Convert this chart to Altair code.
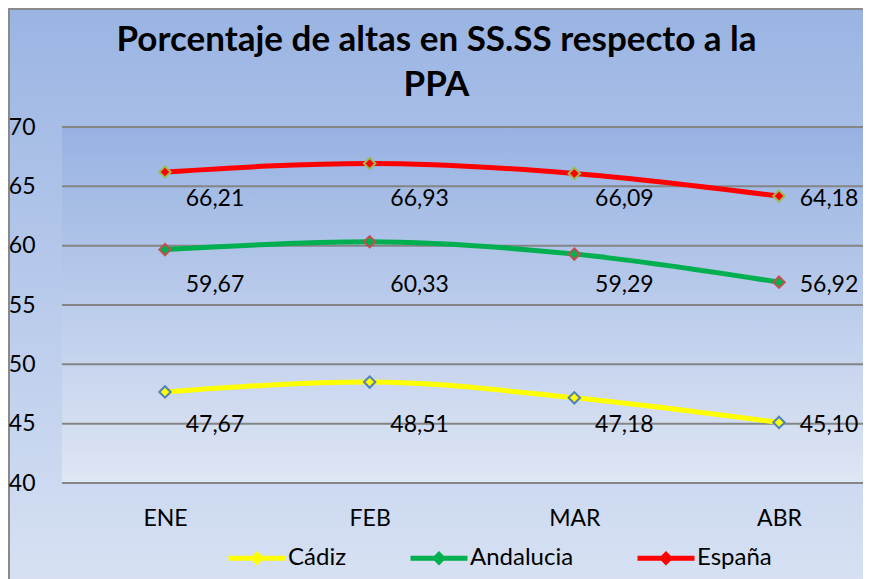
import altair as alt
import pandas as pd

# ---- data ----
months = ["ENE", "FEB", "MAR", "ABR"]
series_names = ["Cádiz", "Andalucia", "España"]
cadiz = [47.67, 48.51, 47.18, 45.10]
andalucia = [59.67, 60.33, 59.29, 56.92]
espana = [66.21, 66.93, 66.09, 64.18]
y_ticks = [40, 45, 50, 55, 60, 65, 70]

# ---- styles ----
line_colors = ["#ffff00", "#00b050", "#ff0000"]
marker_strokes = ["#4f81bd", "#c0504d", "#9bbb59"]
FONT = "Lato"
W, H = 801, 356

rows = []
for name, vals in zip(series_names, [cadiz, andalucia, espana]):
    for m, v in zip(months, vals):
        rows.append({"serie": name, "mes": m, "valor": v})
df = pd.DataFrame(rows)
ticks_df = pd.DataFrame({"tick": y_ticks})
one = pd.DataFrame({"a": [0]})

x_enc = alt.X(
    "mes:N",
    sort=months,
    scale=alt.Scale(type="point", domain=months, range=[103, 717], padding=0),
    axis=alt.Axis(title=None, labelAngle=0, labelFont=FONT, labelFontSize=23,
                  labelColor="black", labelPadding=24, ticks=False, domain=False,
                  grid=False, zindex=1),
)
y_scale = alt.Scale(domain=[40, 70], nice=False, zero=False)
y_axis = alt.Axis(title=None, values=y_ticks, format="d", labelFont=FONT, labelFontSize=23,
                  labelColor="black", labelPadding=27, ticks=False, domain=False,
                  grid=False, zindex=1)

outer_grad = alt.Gradient(gradient="linear",
                          stops=[alt.GradientStop(color="#9ab4e3", offset=0),
                                 alt.GradientStop(color="#dbe4f4", offset=1)],
                          x1=0, x2=0, y1=0, y2=1)
plot_grad = alt.Gradient(gradient="linear",
                         stops=[alt.GradientStop(color="#97b2e2", offset=0),
                                alt.GradientStop(color="#dfe6f4", offset=1)],
                         x1=0, x2=0, y1=0, y2=1)

bg_outer = alt.Chart(one).mark_rect(fill=outer_grad, stroke="#8a8a8a", strokeWidth=2).encode(
    x=alt.value(-53), x2=alt.value(W + 40), y=alt.value(-118), y2=alt.value(H + 140)
)
bg_plot = alt.Chart(one).mark_rect(fill=plot_grad).encode(
    x=alt.value(0), x2=alt.value(W), y=alt.value(0), y2=alt.value(H)
)

grid = alt.Chart(ticks_df).mark_rule(color="#858585", strokeWidth=2).encode(
    y=alt.Y("tick:Q", scale=y_scale, axis=y_axis)
)

legend_symbol = "M-1,0H1M0,-0.13L0.13,0L0,0.13L-0.13,0Z"
leg = alt.Legend(orient="none", legendX=164, legendY=400, direction="horizontal", title=None,
                 symbolType=legend_symbol, symbolSize=3249, symbolStrokeWidth=5,
                 symbolOpacity=1,
                 labelFont=FONT, labelFontSize=24, labelColor="black", labelOffset=0,
                 columnPadding=53, padding=0)

lines = alt.Chart(df).mark_line(interpolate="monotone", strokeWidth=5).encode(
    x=x_enc,
    y=alt.Y("valor:Q", scale=y_scale, axis=y_axis),
    color=alt.Color("serie:N", scale=alt.Scale(domain=series_names, range=line_colors), legend=leg),
)

points = alt.Chart(df).mark_point(
    shape="diamond", size=130, filled=True, strokeWidth=2, opacity=1
).encode(
    x=x_enc,
    y=alt.Y("valor:Q", scale=y_scale, axis=y_axis),
    fill=alt.Fill("serie:N", scale=alt.Scale(domain=series_names, range=line_colors), legend=leg),
    stroke=alt.Stroke("serie:N", sort=series_names, scale=alt.Scale(range=marker_strokes), legend=None),
)

labels = alt.Chart(df).transform_joinaggregate(
    minv="min(valor)", groupby=["serie"]
).transform_calculate(
    lbl="replace(format(datum.valor, '.2f'), '.', ',')"
).mark_text(dx=50, dy=3, align="center", baseline="middle", font=FONT, fontSize=23, color="black").encode(
    x=x_enc,
    y=alt.Y("minv:Q", scale=y_scale, axis=y_axis),
    text="lbl:N",
)

chart = alt.layer(bg_outer, bg_plot, grid, lines, points, labels).properties(
    width=W, height=H,
    autosize=alt.AutoSizeParams(type="none"),
    padding={"left": 54, "top": 119, "right": 0, "bottom": 96},
    title=alt.TitleParams(
        text=["Porcentaje de altas en SS.SS respecto a la", "PPA"],
        font=FONT, fontSize=35, fontWeight="bold", color="black",
        anchor="middle", frame="group", dx=-26, offset=-123, baseline="alphabetic", lineHeight=45,
    ),
).configure_view(stroke=None).configure(background="white")

chart.save("out.html", embed_options={"renderer": "svg", "actions": False})
